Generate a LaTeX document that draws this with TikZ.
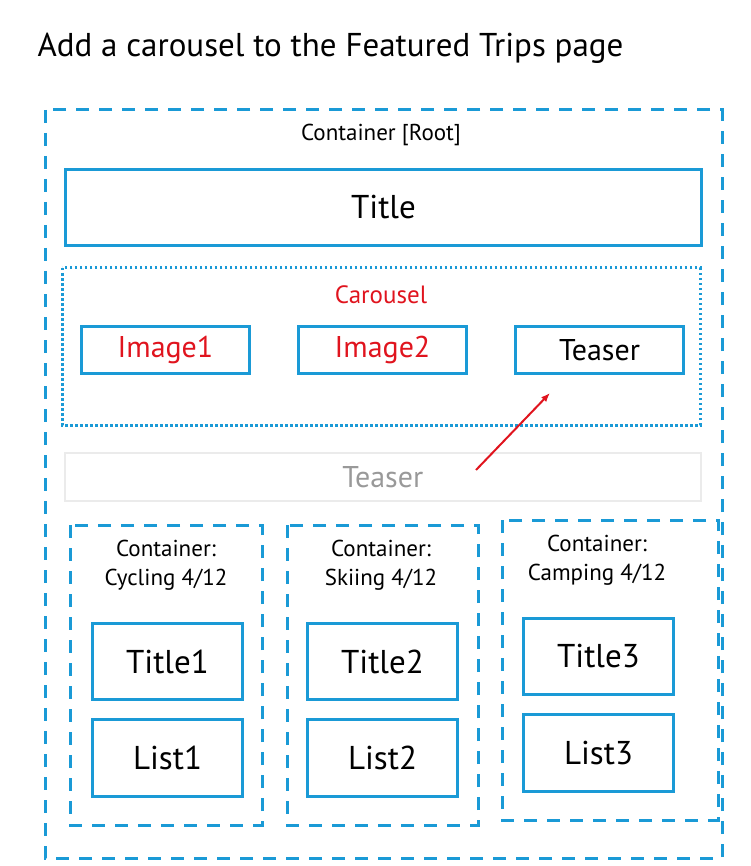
\documentclass[tikz,border=0pt]{standalone}
\usepackage{fontspec}
\usetikzlibrary{arrows.meta}
\setmainfont{PT Sans}
\begin{document}
\begin{tikzpicture}[x=1pt,y=-1pt,
  blu/.style={draw=cblue,line width=3pt},
  box/.style={blu,rectangle,anchor=north west,inner sep=0},
  dsh/.style={draw=cblue,line width=3pt,dash pattern=on 13pt off 10pt},
  lbl/.style={font=\fontsize{23}{29}\selectfont,align=center}]
\definecolor{cblue}{HTML}{1A9AD6}
\definecolor{cred}{HTML}{E0141E}
\useasboundingbox (0,0) rectangle (750,866);
\node[anchor=west,font=\fontsize{33}{38}\selectfont] (hd) at (34,48) {Add a carousel to the Featured Trips page};
\draw[dsh] (45,110) rectangle (722,858);
\node[lbl] (root) at (381,135) {Container [Root]};
\node[box,minimum width=636,minimum height=76,font=\fontsize{33}{36}\selectfont] (title) at (64,168) {Title};
\draw[draw=cblue,line width=3pt,dash pattern=on 2.5pt off 2.5pt] (62,268) rectangle (700,425);
\node[lbl,text=cred,font=\fontsize{25}{28}\selectfont] (car) at (381,295) {Carousel};
\foreach \n/\x/\t/\c in {im1/80/Image1/cred,im2/297/Image2/cred,tz/514/Teaser/black}
  \node[box,minimum width=168,minimum height=47,text=\c,font=\fontsize{30}{32}\selectfont] (\n) at (\x,325) {\t};
\node[draw=black!8,line width=1.5pt,rectangle,anchor=north west,minimum width=636,minimum height=48,text=black!40,font=\fontsize{30}{32}\selectfont] (ghost) at (64,452) {Teaser};
\coordinate (as) at (476,470);
\coordinate (ae) at (550,393);
\draw[cred,line width=2pt,-{Latex[length=9pt,width=7pt]}] (as) -- (ae);
\foreach \i/\x/\y/\w/\n/\bx in {1/70/525/192/Cycling/91,2/287/525/191/Skiing/306,3/502/520/216/Camping/522}{
  \draw[dsh] (\x,\y) rectangle ++(\w,300);
  \node[lbl] (c\i) at ({\bx+75},{\y+40}) {Container:\\\n\ 4/12};
  \node[box,minimum width=150,minimum height=76,font=\fontsize{33}{36}\selectfont] (t\i) at (\bx,{\y+97}) {Title\i};
  \node[box,minimum width=150,minimum height=77,font=\fontsize{33}{36}\selectfont] (l\i) at (\bx,{\y+193}) {List\i};
}
\end{tikzpicture}
\end{document}
